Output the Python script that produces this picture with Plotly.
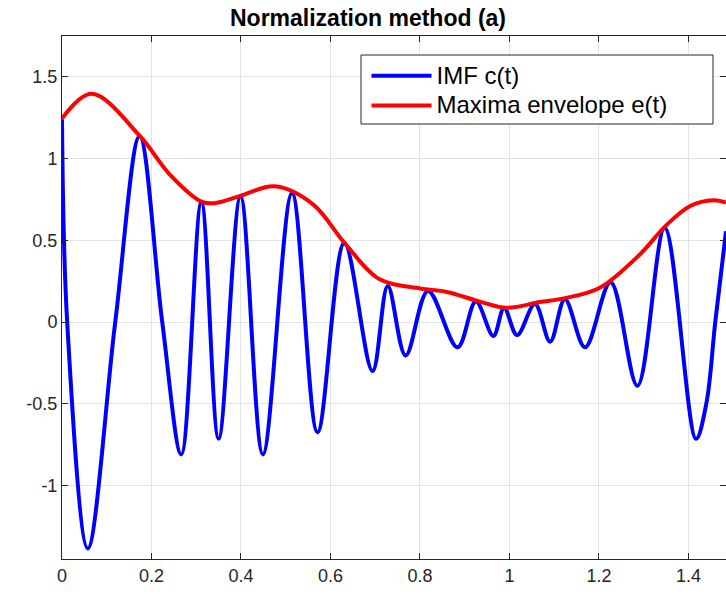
import plotly.graph_objects as go

# IMF c(t): points (extrema and a few zero crossings)
imf_t = [0.000, 0.0116, 0.0577, 0.119, 0.1734, 0.224, 0.2666, 0.3114, 0.350, 0.399,
         0.449, 0.514, 0.571, 0.631, 0.694, 0.728, 0.768, 0.818, 0.884, 0.925,
         0.964, 0.988, 1.017, 1.057, 1.091, 1.124, 1.169, 1.226, 1.286, 1.347,
         1.417, 1.440, 1.460, 1.484]
imf_c = [1.24, 0.0, -1.385, 0.0, 1.137, 0.0, -0.81, 0.735, -0.715, 0.77,
         -0.81, 0.79, -0.675, 0.484, -0.30, 0.22, -0.205, 0.19, -0.155, 0.125,
         -0.085, 0.086, -0.08, 0.11, -0.12, 0.14, -0.155, 0.243, -0.39, 0.575,
         -0.715, -0.5, 0.0, 0.555]

# Maxima envelope e(t)
env_t = [0.000, 0.0667, 0.1734, 0.240, 0.3114, 0.340, 0.399, 0.475, 0.561, 0.632,
         0.710, 0.800, 0.860, 0.934, 0.993, 1.068, 1.124, 1.202, 1.292, 1.348,
         1.404, 1.456, 1.484]
env_e = [1.245, 1.396, 1.14, 0.905, 0.737, 0.727, 0.772, 0.83, 0.72, 0.482,
         0.261, 0.205, 0.184, 0.125, 0.087, 0.122, 0.146, 0.21, 0.415, 0.585,
         0.71, 0.745, 0.731]

x_ticks = [0, 0.2, 0.4, 0.6, 0.8, 1.0, 1.2, 1.4]
x_labels = ["0", "0.2", "0.4", "0.6", "0.8", "1", "1.2", "1.4"]
y_ticks = [-1, -0.5, 0, 0.5, 1, 1.5]
y_labels = ["-1", "-0.5", "0", "0.5", "1", "1.5"]
series_names = ["IMF c(t)", "Maxima envelope e(t)"]

FONT = "Liberation Sans, Arial, Helvetica, sans-serif"
AX = "#262626"
GRID = "#e3e3e3"

W, H = 726, 594
ML, MR, MT, MB = 62, 0, 36, 35
PW, PH = W - ML - MR, H - MT - MB


def px_x(p):
    return (p - ML) / PW


def px_y(p):
    return (H - MB - p) / PH


fig = go.Figure()
fig.add_trace(go.Scatter(x=imf_t, y=imf_c, mode="lines",
                         name='<span style="font-size:24px">%s</span>' % series_names[0],
                         line=dict(color="#0000ff", width=4, shape="spline", smoothing=1)))
fig.add_trace(go.Scatter(x=env_t, y=env_e, mode="lines",
                         name='<span style="font-size:24px">%s</span>' % series_names[1],
                         line=dict(color="#ff0000", width=4, shape="spline", smoothing=1)))

axis_common = dict(showline=True, linecolor=AX, linewidth=1, mirror="ticks",
                   ticks="inside", ticklen=6, tickcolor=AX, tickwidth=1,
                   showgrid=True, gridcolor=GRID, gridwidth=1, zeroline=False,
                   tickfont=dict(family=FONT, size=18, color=AX))

fig.update_xaxes(range=[0, 1.484], tickvals=x_ticks, ticktext=x_labels, **axis_common)
fig.update_yaxes(range=[-1.45, 1.75], tickvals=y_ticks, ticktext=y_labels, **axis_common)

# legend frame
fig.add_shape(type="rect", xref="paper", yref="paper",
              x0=px_x(361), x1=px_x(713), y0=px_y(124), y1=px_y(55),
              fillcolor="white", line=dict(color=AX, width=1), layer="above")

fig.update_layout(
    width=W, height=H,
    margin=dict(l=ML, r=MR, t=MT, b=MB),
    paper_bgcolor="white", plot_bgcolor="white",
    title=dict(text="Normalization method (a)", x=368 / W, xref="container", xanchor="center",
               y=1 - 18 / H, yref="container", yanchor="middle",
               font=dict(family=FONT, size=23, color="#000000", weight="bold")),
    legend=dict(x=px_x(366.5), y=px_y(56), xanchor="left", yanchor="top",
                bgcolor="rgba(0,0,0,0)", borderwidth=0,
                font=dict(family=FONT, size=20.5, color="#000000"),
                itemwidth=60, tracegroupgap=0),
    showlegend=True,
)

fig.write_html("out.html")
